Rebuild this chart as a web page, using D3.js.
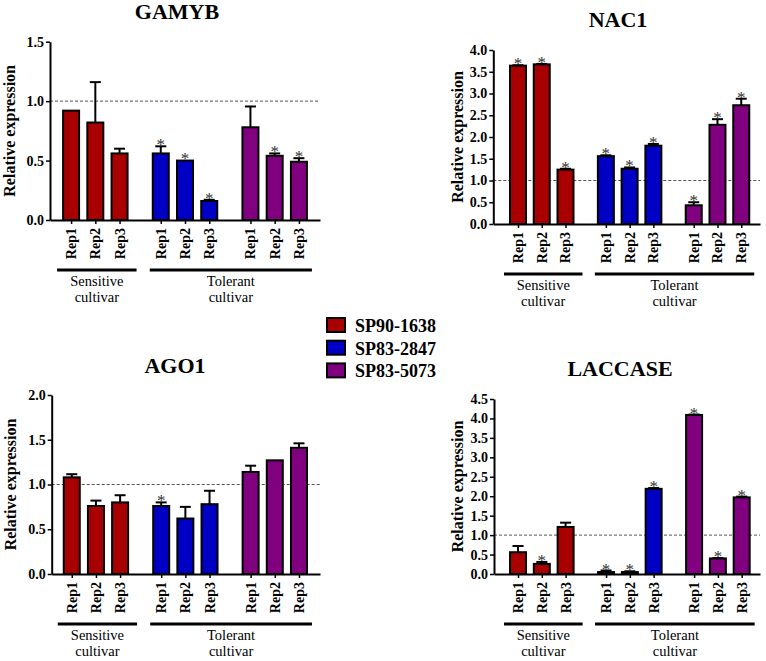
<!DOCTYPE html>
<html>
<head>
<meta charset="utf-8">
<script src="https://cdn.jsdelivr.net/npm/d3@7"></script>
<style>
  body { margin: 0; background: #fff; }
</style>
</head>
<body>
<div class="chart"></div>
<script>
// categories
var cultivars = ['SP90-1638', 'SP83-2847', 'SP83-5073'];
var reps = ['Rep1', 'Rep2', 'Rep3'];
var groupLabels = [['Sensitive', 'cultivar'], ['Tolerant', 'cultivar']];

// values, 9 bars per gene: cultivar x rep
var gamybMean = [0.92, 0.82, 0.56, 0.56, 0.50, 0.16, 0.78, 0.54, 0.49];
var gamybErr = [0.005, 0.34, 0.04, 0.06, 0.005, 0.01, 0.175, 0.02, 0.03];
var gamybSig = [0, 0, 0, 1, 1, 1, 0, 1, 1];
var gamybTicks = [0, 0.5, 1.0, 1.5];

var nac1Mean = [3.64, 3.67, 1.25, 1.56, 1.27, 1.80, 0.43, 2.28, 2.73];
var nac1Err = [0.01, 0.01, 0.02, 0.02, 0.03, 0.04, 0.07, 0.13, 0.15];
var nac1Sig = [1, 1, 1, 1, 1, 1, 1, 1, 1];
var nac1Ticks = [0, 0.5, 1.0, 1.5, 2.0, 2.5, 3.0, 3.5, 4.0];

var ago1Mean = [1.08, 0.76, 0.80, 0.76, 0.62, 0.78, 1.14, 1.27, 1.41];
var ago1Err = [0.035, 0.06, 0.08, 0.04, 0.13, 0.15, 0.07, 0.005, 0.05];
var ago1Sig = [0, 0, 0, 1, 0, 0, 0, 0, 0];
var ago1Ticks = [0, 0.5, 1.0, 1.5, 2.0];

var laccMean = [0.56, 0.26, 1.21, 0.05, 0.05, 2.19, 4.09, 0.40, 1.97];
var laccErr = [0.16, 0.05, 0.11, 0.04, 0.02, 0.02, 0.01, 0.01, 0.02];
var laccSig = [0, 1, 0, 1, 1, 1, 1, 1, 1];
var laccTicks = [0, 0.5, 1.0, 1.5, 2.0, 2.5, 3.0, 3.5, 4.0, 4.5];

var colors = ['#a80000', '#0000c4', '#800080'];
var serif = '"Liberation Serif", "Times New Roman", serif';
var groupGap = 0.7; // extra space between cultivars, in bar steps

// layout of the four panels
var panels = [
  { title: 'GAMYB', mean: gamybMean, err: gamybErr, sig: gamybSig, ticks: gamybTicks,
    x0: 50, x1: 320, yTop: 41.7, yBot: 220, pad: [0.87, 0.87], titleX: 177, titleY: 19, labelX: 15 },
  { title: 'NAC1', mean: nac1Mean, err: nac1Err, sig: nac1Sig, ticks: nac1Ticks,
    x0: 493.3, x1: 760, yTop: 50, yBot: 224, pad: [1.04, 0.79], titleX: 618, titleY: 27, labelX: 463 },
  { title: 'AGO1', mean: ago1Mean, err: ago1Err, sig: ago1Sig, ticks: ago1Ticks,
    x0: 51.7, x1: 320, yTop: 395, yBot: 574, pad: [0.83, 0.87], titleX: 175, titleY: 373, labelX: 16 },
  { title: 'LACCASE', mean: laccMean, err: laccErr, sig: laccSig, ticks: laccTicks,
    x0: 494, x1: 760, yTop: 399, yBot: 574, pad: [1.01, 0.77], titleX: 620, titleY: 376, labelX: 463 }
];

var svg = d3.select('.chart').append('svg')
  .attr('width', 766)
  .attr('height', 661)
  .attr('font-family', serif);

function slot(i) {
  var g = Math.floor(i / 3), r = i % 3;
  return g * (3 + groupGap) + r;
}
var lastSlot = slot(8);

panels.forEach(function (p) {
  var g = svg.append('g');

  var x = d3.scaleLinear()
    .domain([-p.pad[0], lastSlot + p.pad[1]])
    .range([p.x0, p.x1]);
  var y = d3.scaleLinear()
    .domain([0, d3.max(p.ticks)])
    .range([p.yBot, p.yTop]);

  var bars = p.mean.map(function (m, i) {
    return { i: i, s: slot(i), mean: m, err: p.err[i], sig: p.sig[i], c: Math.floor(i / 3) };
  });

  // title
  g.append('text')
    .attr('x', p.titleX)
    .attr('y', p.titleY)
    .attr('text-anchor', 'middle')
    .style('font-family', serif)
    .style('font-size', '22px')
    .style('font-weight', 'bold')
    .text(p.title);

  // y label
  g.append('text')
    .attr('transform', 'translate(' + p.labelX + ',' + ((p.yTop + p.yBot) / 2) + ')rotate(-90)')
    .attr('text-anchor', 'middle')
    .style('font-family', serif)
    .style('font-size', '16px')
    .style('font-weight', 'bold')
    .text('Relative expression');

  // reference line at 1
  g.append('line')
    .attr('x1', p.x0).attr('x2', p.x1)
    .attr('y1', y(1)).attr('y2', y(1))
    .attr('stroke', '#555')
    .attr('stroke-width', 1)
    .attr('stroke-dasharray', '3,2');

  var bw = 16;
  g.selectAll('.bar')
    .data(bars)
    .enter().append('rect')
    .attr('class', 'bar')
    .attr('x', function (d) { return x(d.s) - bw / 2; })
    .attr('y', function (d) { return y(d.mean); })
    .attr('width', bw)
    .attr('height', function (d) { return p.yBot - y(d.mean); })
    .attr('fill', function (d) { return colors[d.c]; })
    .attr('stroke', '#000')
    .attr('stroke-width', 2);

  // error bars (upper only)
  var eb = g.selectAll('.err')
    .data(bars.filter(function (d) { return d.err > 0.008; }))
    .enter().append('g');
  eb.append('line')
    .attr('x1', function (d) { return x(d.s); })
    .attr('x2', function (d) { return x(d.s); })
    .attr('y1', function (d) { return y(d.mean); })
    .attr('y2', function (d) { return y(d.mean + d.err); })
    .attr('stroke', '#000').attr('stroke-width', 2);
  eb.append('line')
    .attr('x1', function (d) { return x(d.s) - 5.5; })
    .attr('x2', function (d) { return x(d.s) + 5.5; })
    .attr('y1', function (d) { return y(d.mean + d.err); })
    .attr('y2', function (d) { return y(d.mean + d.err); })
    .attr('stroke', '#000').attr('stroke-width', 2);

  // significance marks
  g.selectAll('.star')
    .data(bars.filter(function (d) { return d.sig; }))
    .enter().append('text')
    .attr('x', function (d) { return x(d.s); })
    .attr('y', function (d) { return y(d.mean + d.err) + 4; })
    .attr('text-anchor', 'middle')
    .attr('fill', '#333')
    .style('font-family', serif)
    .style('font-size', '17px')
    .text('*');

  // axes
  var yAxis = d3.axisLeft(y)
    .tickValues(p.ticks)
    .tickSize(4)
    .tickSizeOuter(0)
    .tickPadding(2)
    .tickFormat(d3.format('.1f'));
  var ya = g.append('g')
    .attr('transform', 'translate(' + p.x0 + ',0)')
    .call(yAxis);

  var xAxis = d3.axisBottom(x)
    .tickValues(bars.map(function (d) { return d.s; }))
    .tickSize(4)
    .tickSizeOuter(0)
    .tickFormat(function (s) { return reps[bars.find(function (d) { return d.s === s; }).i % 3]; });
  var xa = g.append('g')
    .attr('transform', 'translate(0,' + p.yBot + ')')
    .call(xAxis);
  xa.selectAll('text')
    .attr('transform', 'rotate(-90)')
    .attr('text-anchor', 'end')
    .attr('x', -8)
    .attr('y', 0)
    .attr('dy', '0.32em');

  [ya, xa].forEach(function (a) {
    a.attr('font-family', serif);
    a.select('.domain').attr('stroke', '#000').attr('stroke-width', 2);
    a.selectAll('.tick line').attr('stroke', '#000').attr('stroke-width', 1.5);
    a.selectAll('text')
      .attr('fill', '#000')
      .style('font-family', serif)
      .style('font-size', '14px')
      .style('font-weight', 'bold');
  });

  // cultivar group brackets
  var spans = [[x(slot(0)) - 14, x(slot(2)) + 17], [x(slot(3)) - 11, x(slot(8)) + 13]];
  spans.forEach(function (sp, k) {
    g.append('line')
      .attr('x1', sp[0]).attr('x2', sp[1])
      .attr('y1', p.yBot + 50).attr('y2', p.yBot + 50)
      .attr('stroke', '#000').attr('stroke-width', 3);
    groupLabels[k].forEach(function (t, j) {
      g.append('text')
        .attr('x', (sp[0] + sp[1]) / 2)
        .attr('y', p.yBot + 66 + j * 16)
        .attr('text-anchor', 'middle')
        .style('font-family', serif)
        .style('font-size', '14.5px')
        .text(t);
    });
  });
});

// legend
var legend = svg.append('g').attr('transform', 'translate(327,318)');
cultivars.forEach(function (c, i) {
  legend.append('rect')
    .attr('x', 0)
    .attr('y', i * 22.7)
    .attr('width', 18)
    .attr('height', 14)
    .attr('fill', colors[i])
    .attr('stroke', '#000')
    .attr('stroke-width', 2);
  legend.append('text')
    .attr('x', 28)
    .attr('y', i * 22.7 + 14)
    .style('font-family', serif)
    .style('font-size', '18px')
    .style('font-weight', 'bold')
    .text(c);
});
</script>
</body>
</html>
